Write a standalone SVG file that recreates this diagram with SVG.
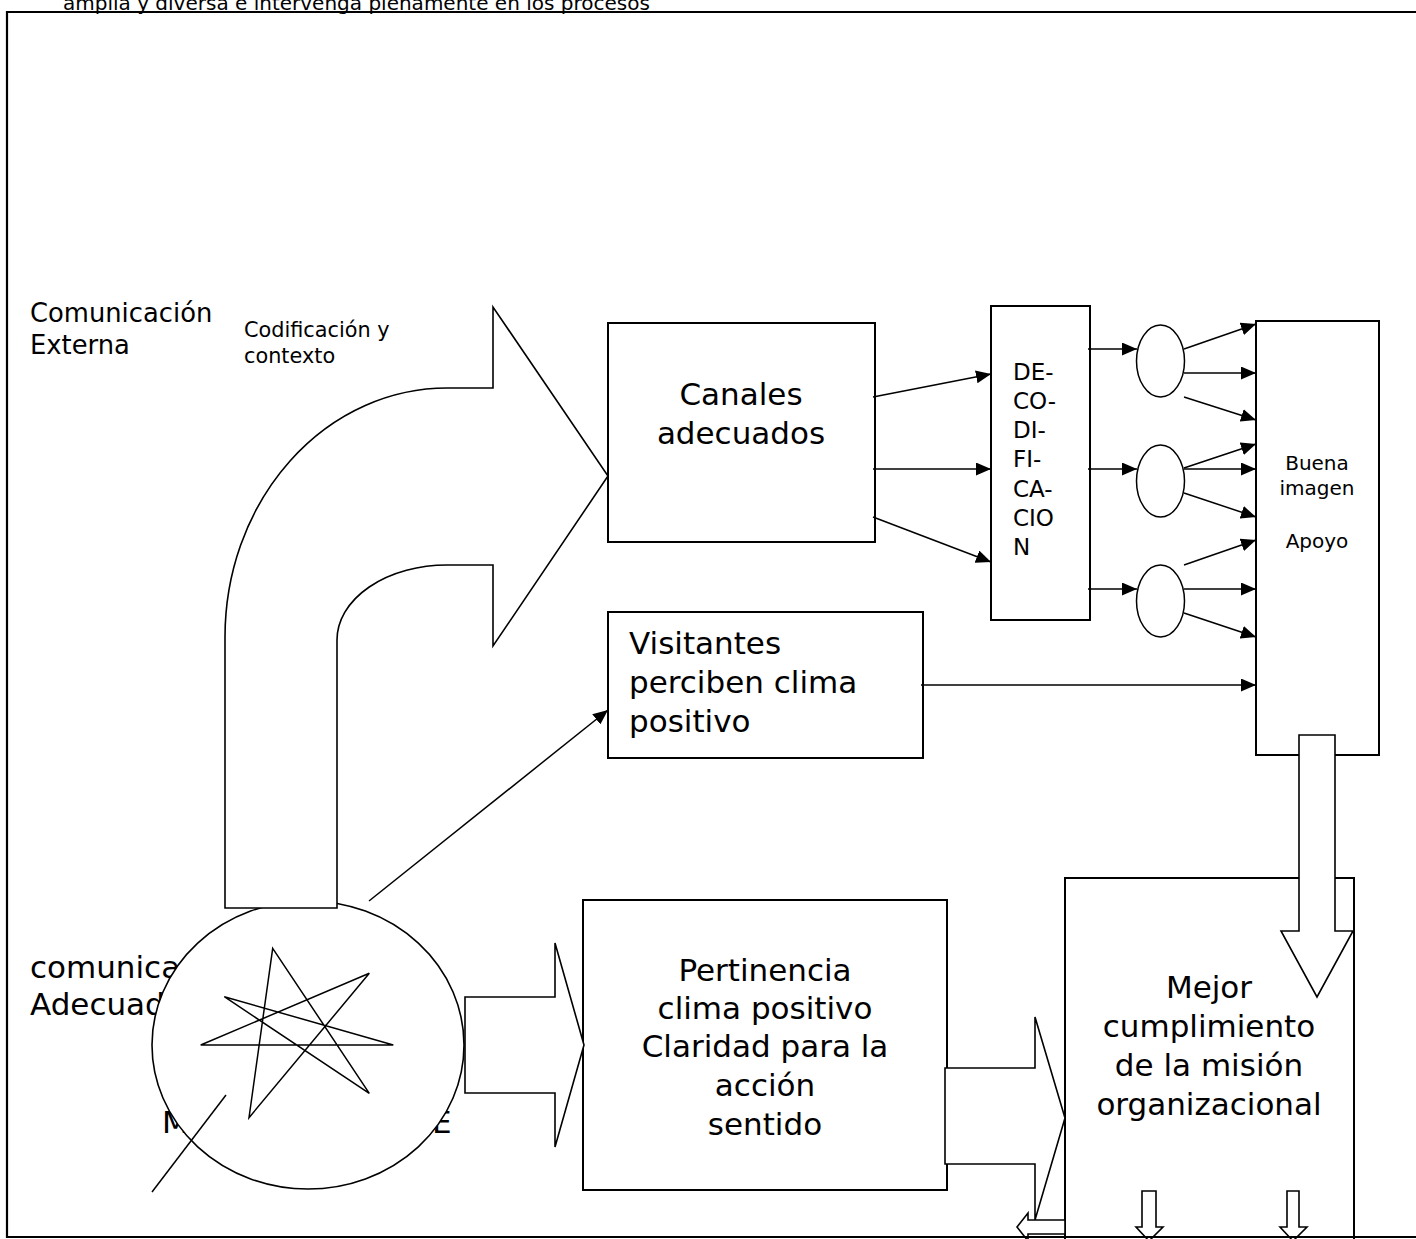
<svg xmlns="http://www.w3.org/2000/svg" width="1416" height="1239" viewBox="0 0 1416 1239">
<style>
.t{font-family:"DejaVu Sans",Verdana,sans-serif;fill:#000}
.box{fill:#fff;stroke:#000;stroke-width:2}
.ln{fill:none;stroke:#000;stroke-width:1.5}
.arr{marker-end:url(#ah)}
.blk{fill:#fff;stroke:#000;stroke-width:1.6;stroke-linejoin:miter}
</style>
<defs>
<marker id="ah" markerWidth="15" markerHeight="13" refX="15" refY="6.5" orient="auto" markerUnits="userSpaceOnUse">
<path d="M0,0 L15,6.5 L0,13 z" fill="#000"/>
</marker>
</defs>
<rect width="1416" height="1239" fill="#fff"/>
<text class="t" x="63" y="10" font-size="20">amplia y diversa e intervenga plenamente en los procesos</text>

<g id="label-externa">
<text class="t" x="30" y="322" font-size="25.8">Comunicación</text>
<text class="t" x="30" y="354" font-size="25.8">Externa</text>
</g>
<g id="label-codificacion">
<text class="t" x="244" y="337" font-size="20.8">Codificación y</text>
<text class="t" x="244" y="363" font-size="20.8">contexto</text>
</g>
<g id="label-comunicacion">
<text class="t" x="30" y="978" font-size="31">comunica</text>
<text class="t" x="30" y="1015" font-size="31">Adecuad</text>
<text class="t" x="162" y="1133" font-size="31">M</text>
<text class="t" x="432" y="1133" font-size="31">E</text>
</g>

<g id="circle-node">
<ellipse class="blk" cx="308" cy="1045" rx="156" ry="144"/>
<polygon class="ln" points="272.7,948.3 369.3,1093.3 224.3,996.7 393.3,1045 200.7,1045 369.3,973.3 249,1117.7"/>
<line class="ln" x1="226" y1="1095" x2="152" y2="1192"/>
</g>

<g id="curved-arrow">
<path class="blk" d="M225,908 L225,637 A222,249 0 0 1 447,388 L493,388 L493,307 L608,476 L493,646 L493,565 L447,565 A110,75 0 0 0 337,640 L337,908 Z"/>
</g>

<g id="canales">
<rect class="box" x="608" y="323" width="267" height="219"/>
<text class="t" x="741" y="405" font-size="31" text-anchor="middle">Canales</text>
<text class="t" x="741" y="444" font-size="31" text-anchor="middle">adecuados</text>
</g>

<g id="visitantes">
<rect class="box" x="608" y="612" width="315" height="146"/>
<text class="t" x="629" y="654" font-size="31">Visitantes</text>
<text class="t" x="629" y="693" font-size="31">perciben clima</text>
<text class="t" x="629" y="732" font-size="31">positivo</text>
</g>

<g id="decodificacion">
<rect class="box" x="991" y="306" width="99" height="314"/>
<text class="t" x="1013" y="380" font-size="23">DE-</text>
<text class="t" x="1013" y="409" font-size="23">CO-</text>
<text class="t" x="1013" y="438" font-size="23">DI-</text>
<text class="t" x="1013" y="467" font-size="23">FI-</text>
<text class="t" x="1013" y="497" font-size="23">CA-</text>
<text class="t" x="1013" y="526" font-size="23">CIO</text>
<text class="t" x="1013" y="555" font-size="23">N</text>
</g>

<g id="ellipse-1"><ellipse class="ln" cx="1160.5" cy="361" rx="24" ry="36"/></g>
<g id="ellipse-2"><ellipse class="ln" cx="1160.5" cy="481" rx="24" ry="36"/></g>
<g id="ellipse-3"><ellipse class="ln" cx="1160.5" cy="601" rx="24" ry="36"/></g>

<g id="buena-imagen">
<rect class="box" x="1256" y="321" width="123" height="434"/>
<text class="t" x="1317" y="470" font-size="20" text-anchor="middle">Buena</text>
<text class="t" x="1317" y="495" font-size="20" text-anchor="middle">imagen</text>
<text class="t" x="1317" y="548" font-size="20" text-anchor="middle">Apoyo</text>
</g>

<g id="pertinencia">
<rect class="box" x="583" y="900" width="364" height="290"/>
<text class="t" x="765" y="981" font-size="31" text-anchor="middle">Pertinencia</text>
<text class="t" x="765" y="1019" font-size="31" text-anchor="middle">clima positivo</text>
<text class="t" x="765" y="1057" font-size="31" text-anchor="middle">Claridad para la</text>
<text class="t" x="765" y="1096" font-size="31" text-anchor="middle">acción</text>
<text class="t" x="765" y="1135" font-size="31" text-anchor="middle">sentido</text>
</g>

<g id="mejor">
<rect class="box" x="1065" y="878" width="289" height="400"/>
<text class="t" x="1209" y="998" font-size="31" text-anchor="middle">Mejor</text>
<text class="t" x="1209" y="1037" font-size="31" text-anchor="middle">cumplimiento</text>
<text class="t" x="1209" y="1076" font-size="31" text-anchor="middle">de la misión</text>
<text class="t" x="1209" y="1115" font-size="31" text-anchor="middle">organizacional</text>
</g>

<g id="connectors">
<line class="ln arr" x1="873" y1="397" x2="991" y2="374"/>
<line class="ln arr" x1="873" y1="469" x2="991" y2="469"/>
<line class="ln arr" x1="873" y1="517" x2="991" y2="562"/>
<line class="ln arr" x1="1088" y1="349" x2="1137" y2="349"/>
<line class="ln arr" x1="1088" y1="469" x2="1137" y2="469"/>
<line class="ln arr" x1="1088" y1="589" x2="1137" y2="589"/>
<line class="ln arr" x1="1184" y1="349" x2="1256" y2="324"/>
<line class="ln arr" x1="1184" y1="373" x2="1256" y2="373"/>
<line class="ln arr" x1="1184" y1="397" x2="1256" y2="420"/>
<line class="ln arr" x1="1184" y1="468" x2="1256" y2="444"/>
<line class="ln arr" x1="1184" y1="469" x2="1256" y2="469"/>
<line class="ln arr" x1="1184" y1="493" x2="1256" y2="517"/>
<line class="ln arr" x1="1184" y1="565" x2="1256" y2="540"/>
<line class="ln arr" x1="1184" y1="589" x2="1256" y2="589"/>
<line class="ln arr" x1="1184" y1="613" x2="1256" y2="637"/>
<line class="ln arr" x1="921" y1="685" x2="1256" y2="685"/>
<line class="ln arr" x1="369" y1="901" x2="608" y2="710"/>
<polygon class="blk" points="465,997 555,997 555,943 584,1045 555,1147 555,1093 465,1093"/>
<polygon class="blk" points="945,1068 1035,1068 1035,1017 1065,1118 1035,1220 1035,1164 945,1164"/>
<polygon class="blk" points="1299,735 1335,735 1335,931 1353,931 1317,997 1281,931 1299,931"/>
<polygon class="blk" points="1065,1220 1028,1220 1028,1213 1017,1227 1028,1241 1028,1234 1065,1234"/>
<polygon class="blk" points="1142,1191 1156,1191 1156,1227 1163,1227 1149,1241 1136,1227 1142,1227"/>
<polygon class="blk" points="1287,1191 1299,1191 1299,1227 1307,1227 1293,1241 1280,1227 1287,1227"/>
</g>

<g id="frame">
<polyline class="ln" style="stroke-width:2.2" points="1416,12 7,12 7,1237 1416,1237"/>
</g>
</svg>
